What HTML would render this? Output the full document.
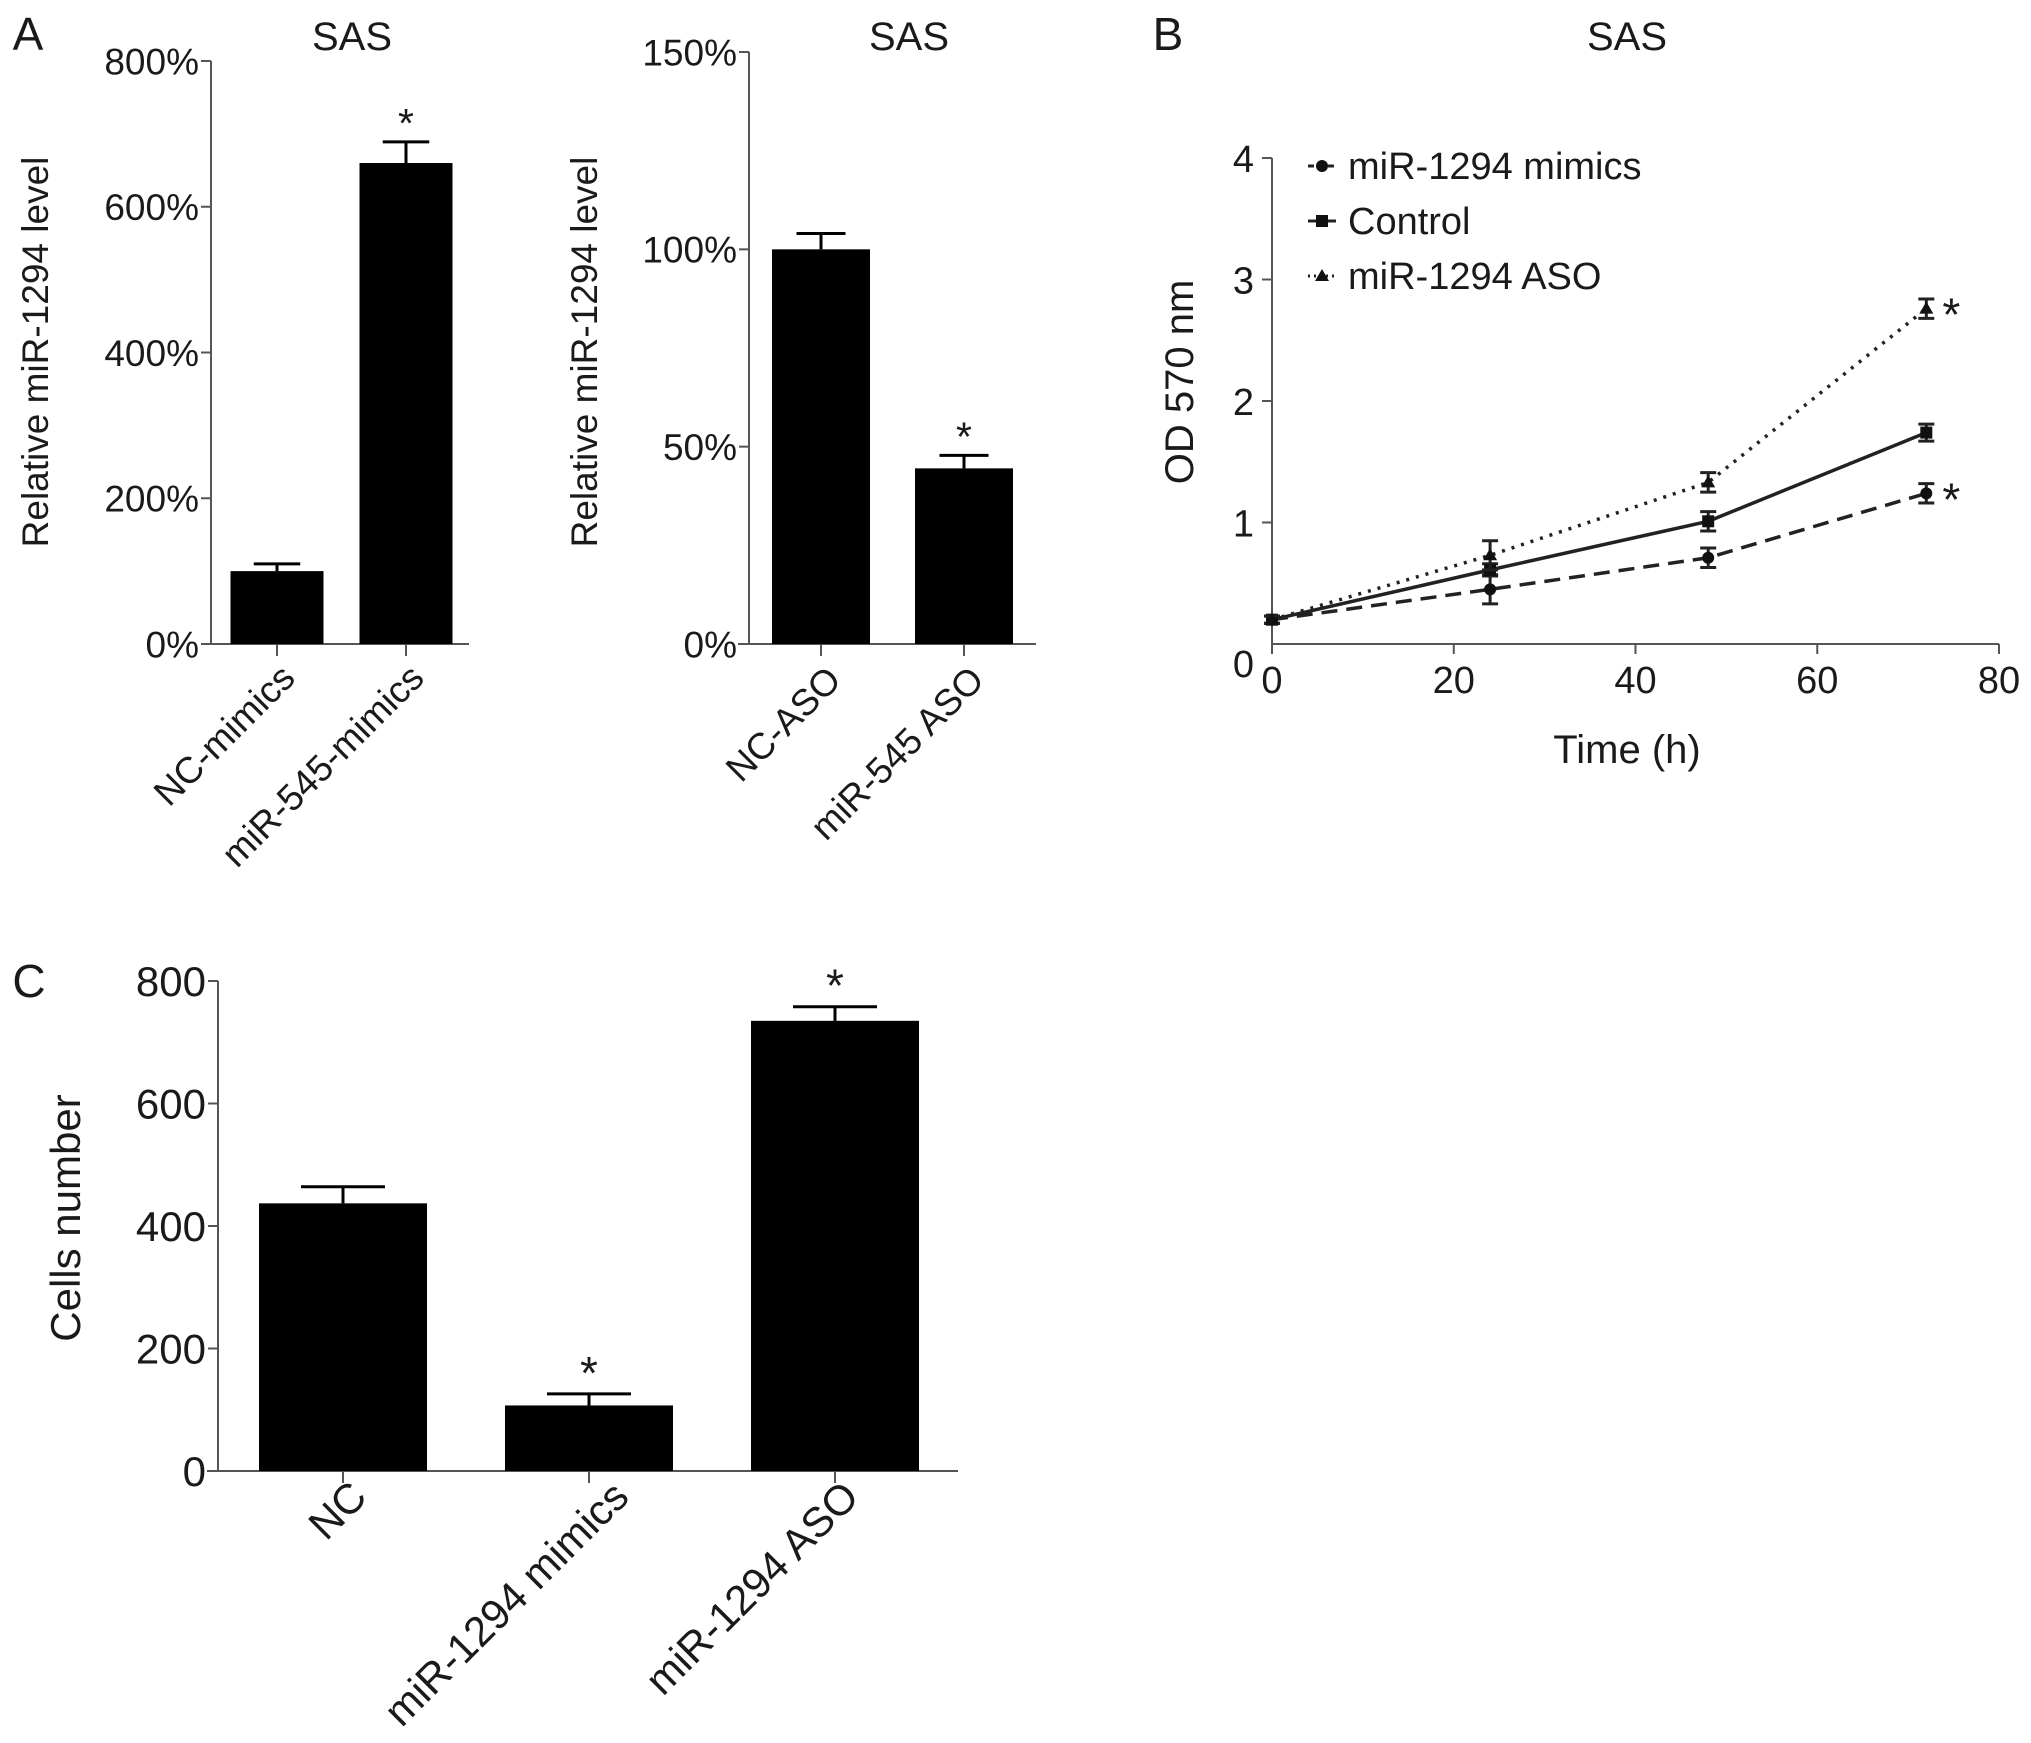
<!DOCTYPE html>
<html><head><meta charset="utf-8"><style>
body{margin:0;background:#fff}
svg{display:block;font-family:"Liberation Sans",Arial,sans-serif;fill:#1a1a1a}
</style></head><body>
<svg id="s" width="2031" height="1743" viewBox="0 0 2031 1743" xmlns="http://www.w3.org/2000/svg"></svg>
<script>
// Panel A1 data
const a1Cats=["NC-mimics","miR-545-mimics"];
const a1Vals=[100,660];
const a1Errs=[10,29];
const a1Ticks=[0,200,400,600,800];
// Panel A2 data
const a2Cats=["NC-ASO","miR-545 ASO"];
const a2Vals=[100,44.5];
const a2Errs=[4,3.3];
const a2Ticks=[0,50,100,150];
// Panel B data
const bTimes=[0,24,48,72];
const bMimics=[0.2,0.45,0.71,1.24];
const bMimicsErr=[0.03,0.12,0.08,0.08];
const bControl=[0.2,0.61,1.01,1.74];
const bControlErr=[0.03,0.05,0.08,0.07];
const bAso=[0.2,0.73,1.33,2.76];
const bAsoErr=[0.03,0.12,0.08,0.08];
const bXTicks=[0,20,40,60,80];
const bYTicks=[1,2,3,4];
// Panel C data
const cCats=["NC","miR-1294 mimics","miR-1294 ASO"];
const cVals=[437,107,735];
const cErrs=[27,19,23];
const cTicks=[0,200,400,600,800];

const S=document.getElementById('s');
const NS="http://www.w3.org/2000/svg";
function el(tag,attrs,parent){const e=document.createElementNS(NS,tag);for(const k in attrs)e.setAttribute(k,attrs[k]);(parent||S).appendChild(e);return e;}
function txt(x,y,s,size,anchor,parent,rot){const t=el('text',{x:x,y:y,'font-size':size,'text-anchor':anchor||'middle'},parent);if(rot)t.setAttribute('transform',`rotate(${rot} ${x} ${y})`);t.textContent=s;return t;}
const AX="#555";

function barPanel(name,o){
  const g=el('g',{});
  
  
  const y=v=>o.y0-(v-o.min)/(o.max-o.min)*(o.y0-o.y1);
  const ax=el('line',{x1:o.ax,y1:o.y1,x2:o.ax,y2:o.y0,stroke:AX,'stroke-width':2},g);
  
  
  const bx=el('line',{x1:o.xa0,y1:o.y0,x2:o.xa1,y2:o.y0,stroke:AX,'stroke-width':2},g);
  
  
  o.ticks.forEach(t=>{
    el('line',{x1:o.ax-10,y1:y(t),x2:o.ax,y2:y(t),stroke:AX,'stroke-width':2},g);
    const l=txt(o.ax-12,y(t)+o.tf*0.36,t+o.suffix,o.tf,'end',g);
    
    
  });
  o.cats.forEach((c,i)=>{
    const cx=o.cx[i];
    el('line',{x1:cx,y1:o.y0,x2:cx,y2:o.y0+12,stroke:AX,'stroke-width':2},g);
    const b=el('rect',{x:cx-o.bw/2,y:y(o.vals[i]),width:o.bw,height:o.y0-y(o.vals[i]),fill:'#000'},g);
    
    
    const ey=y(o.vals[i]+o.errs[i]);
    el('line',{x1:cx,y1:ey,x2:cx,y2:y(o.vals[i]),stroke:'#000','stroke-width':3},g);
    el('line',{x1:cx-o.bw/4,y1:ey,x2:cx+o.bw/4,y2:ey,stroke:'#000','stroke-width':3},g);
    if(o.star[i]){const s=txt(cx,ey-5,'*',o.tf+4,'middle',g);}
    const l=txt(cx+o.ldx+(o.lx?o.lx[i]:0),o.y0+o.ldy,c,o.cf,'end',g,-45);
    
    
  });
  const yl=txt(o.ylx,o.yly,o.ylabel,o.lf,'middle',g,-90);
  
  
  if(o.title){const t=txt(o.tx,50,o.title,40,'middle',g);}
}

barPanel('panel-a-mimics',{ax:211,y0:644,y1:61,min:0,max:800,xa0:201,xa1:469,ticks:a1Ticks,suffix:'%',tf:37,cf:37,lf:37,ldx:20,ldy:36,cats:a1Cats,vals:a1Vals,errs:a1Errs,cx:[277,406],bw:93,star:[0,1],ylx:48,yly:352,ylabel:'Relative miR-1294 level',tx:352,title:'SAS'});
barPanel('panel-a-aso',{ax:749,y0:644,y1:52,min:0,max:150,xa0:738,xa1:1036,ticks:a2Ticks,suffix:'%',tf:37,cf:37,lf:37,ldx:22,ldy:38,cats:a2Cats,vals:a2Vals,errs:a2Errs,cx:[821,964],bw:98,star:[0,1],ylx:597,yly:352,ylabel:'Relative miR-1294 level',tx:909,title:'SAS'});
barPanel('panel-c-cells',{ax:218,y0:1471,y1:981,min:0,max:800,xa0:207,xa1:958,ticks:cTicks,suffix:'',tf:42,cf:42,lf:42,ldx:26,ldy:28,lx:[0,16,0],cats:cCats,vals:cVals,errs:cErrs,cx:[343,589,835],bw:168,star:[0,1,1],ylx:80,yly:1218,ylabel:'Cells number'});

// panel letters
[['A',28,50],['B',1168,50],['C',29,997]].forEach(p=>{const t=txt(p[1],p[2],p[0],46,'middle');});

// Panel B
(function(){
  const g=el('g',{});
  
  
  const x0=1272,x1=1999,y0=644,y1=158;
  const X=v=>x0+v/80*(x1-x0), Y=v=>y0-v/4*(y0-y1);
  el('line',{x1:x0,y1:y1,x2:x0,y2:y0,stroke:AX,'stroke-width':2},g);
  el('line',{x1:x0,y1:y0,x2:x1,y2:y0,stroke:AX,'stroke-width':2},g);
  bYTicks.forEach(t=>{el('line',{x1:x0-10,y1:Y(t),x2:x0,y2:Y(t),stroke:AX,'stroke-width':2},g);const l=txt(x0-18,Y(t)+14,t,38,'end',g);});
  const z=txt(x0-18,677,'0',38,'end',g);
  bXTicks.forEach(t=>{el('line',{x1:X(t),y1:y0,x2:X(t),y2:y0+10,stroke:AX,'stroke-width':2},g);const l=txt(X(t),693,t,38,'middle',g);});
  const xt=txt(1627,763,'Time (h)',40,'middle',g);
  const yt=txt(1193,382,'OD 570 nm',40,'middle',g,-90);
  const tt=txt(1627,50,'SAS',40,'middle',g);
  const series=[
    {name:'miR-1294 mimics',v:bMimics,e:bMimicsErr,dash:'16 9',m:'circle',star:true},
    {name:'Control',v:bControl,e:bControlErr,dash:'',m:'square',star:false},
    {name:'miR-1294 ASO',v:bAso,e:bAsoErr,dash:'3 7',m:'tri',star:true}];
  function marker(x,y,m,p){
    if(m==='circle')return el('circle',{cx:x,cy:y,r:6,fill:'#111'},p);
    if(m==='square')return el('rect',{x:x-6,y:y-6,width:12,height:12,fill:'#111'},p);
    return el('polygon',{points:`${x},${y-7} ${x+7},${y+5} ${x-7},${y+5}`,fill:'#111'},p);
  }
  series.forEach((s,si)=>{
    const sg=el('g',{},g);
    
    
    const pts=bTimes.map((t,i)=>X(t)+','+Y(s.v[i])).join(' ');
    const pl=el('polyline',{points:pts,fill:'none',stroke:'#222','stroke-width':3.5,'stroke-dasharray':s.dash},sg);
    
    
    bTimes.forEach((t,i)=>{
      const cx=X(t),a=Y(s.v[i]+s.e[i]),b=Y(s.v[i]-s.e[i]);
      el('line',{x1:cx,y1:a,x2:cx,y2:b,stroke:'#222','stroke-width':3},sg);
      el('line',{x1:cx-8,y1:a,x2:cx+8,y2:a,stroke:'#222','stroke-width':3},sg);
      el('line',{x1:cx-8,y1:b,x2:cx+8,y2:b,stroke:'#222','stroke-width':3},sg);
      const mk=marker(cx,Y(s.v[i]),s.m,sg);
      
      
    });
    if(s.star){const st=txt(X(72)+25,Y(s.v[3])+22,'*',46,'middle',sg);}
    // legend
    const ly=166+si*55;
    const lg=el('g',{},g);
    
    
    el('line',{x1:1308,y1:ly,x2:1336,y2:ly,stroke:'#222','stroke-width':3,'stroke-dasharray':s.dash?(s.m==='tri'?'2 4':'6 4'):''},lg);
    marker(1322,ly,s.m,lg);
    txt(1348,ly+13,s.name,38,'start',lg);
  });
})();
</script>
</body></html>
